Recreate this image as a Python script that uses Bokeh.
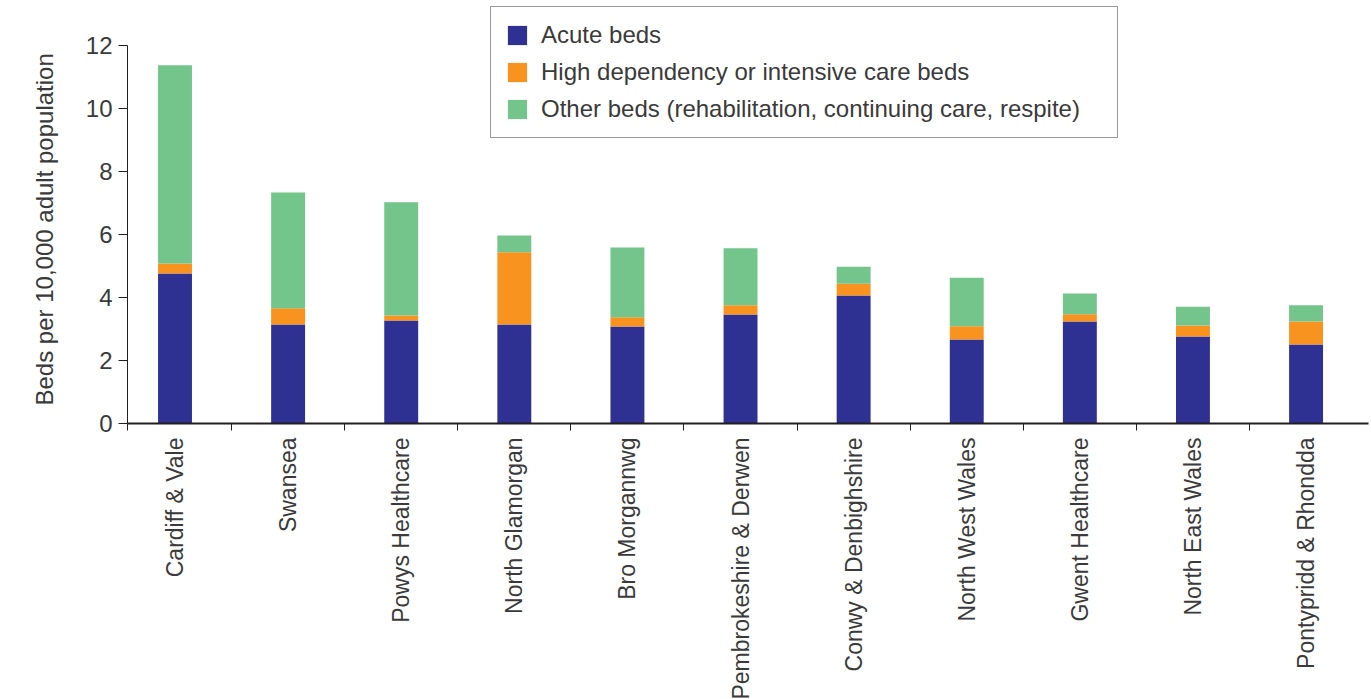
import math
from bokeh.plotting import figure
from bokeh.models import ColumnDataSource, Range1d, FixedTicker, Legend, Title
from bokeh.layouts import column
from bokeh.core.properties import value
from bokeh.embed import file_html
from bokeh.resources import INLINE

categories = ["Cardiff & Vale", "Swansea", "Powys Healthcare", "North Glamorgan",
              "Bro Morgannwg", "Pembrokeshire & Derwen", "Conwy & Denbighshire",
              "North West Wales", "Gwent Healthcare", "North East Wales",
              "Pontypridd & Rhondda"]
acute = [4.76, 3.14, 3.27, 3.14, 3.08, 3.46, 4.06, 2.67, 3.24, 2.76, 2.51]
high_dep = [0.32, 0.52, 0.16, 2.30, 0.29, 0.29, 0.38, 0.42, 0.23, 0.35, 0.73]
other = [6.29, 3.67, 3.59, 0.53, 2.22, 1.81, 0.54, 1.54, 0.66, 0.60, 0.51]
y_ticks = [0, 2, 4, 6, 8, 10, 12]
y_title = "Beds per 10,000 adult population"
series_names = ["Acute beds", "High dependency or intensive care beds",
                "Other beds (rehabilitation, continuing care, respite)"]
colors = ["#2E3192", "#F7931E", "#74C58C"]

pos = list(range(len(categories)))
src = ColumnDataSource(dict(x=pos, acute=acute, hd=high_dep, other=other,
                            name=categories))

FONT = "Liberation Sans"
TXT = "#3a3a3a"
W = 1371

xr = Range1d(-0.42, 10.552)

p = figure(width=W, height=437, output_backend="svg", toolbar_location=None,
           x_range=xr, y_range=Range1d(0, 13.365),
           min_border_left=127, min_border_right=3, min_border_top=2,
           min_border_bottom=14)
p.outline_line_color = None
p.grid.grid_line_color = None
p.background_fill_color = "white"

r = p.vbar_stack(["acute", "hd", "other"], x="x", width=0.30, source=src,
                 color=colors, line_color=None)

legend = Legend(items=[(n, [g]) for n, g in zip(series_names, r)],
                location=(363, 285))
legend.label_text_font = FONT
legend.label_text_font_size = "24px"
legend.label_text_color = TXT
legend.glyph_width = 24
legend.glyph_height = 24
legend.label_standoff = 12
legend.label_width = 562
legend.spacing = 9
legend.padding = 14
legend.margin = 0
legend.border_line_color = "#333333"
legend.border_line_width = 1
legend.background_fill_alpha = 1.0
p.add_layout(legend, "center")

# y axis
ya = p.yaxis[0]
ya.ticker = FixedTicker(ticks=y_ticks)
ya.bounds = (0, 12)
ya.minor_tick_line_color = None
ya.major_tick_out = 9
ya.major_tick_in = 0
ya.axis_line_color = "#231F20"
ya.major_tick_line_color = "#231F20"
ya.major_label_text_font = FONT
ya.major_label_text_font_size = "24px"
ya.major_label_text_color = TXT
ya.major_label_standoff = 6

ttl = Title(text=y_title, align="left", offset=18, standoff=50,
            text_font=FONT, text_font_size="24px", text_font_style="normal",
            text_color=TXT)
p.add_layout(ttl, "left")

# x axis: boundary ticks only
xa = p.xaxis[0]
xa.ticker = FixedTicker(ticks=[], minor_ticks=[-0.42] + [i + 0.5 for i in pos[:-1]])
xa.major_tick_line_color = None
xa.major_tick_out = 0
xa.major_tick_in = 0
xa.minor_tick_out = 7
xa.minor_tick_in = 0
xa.minor_tick_line_color = "#231F20"
xa.axis_line_color = "#231F20"
xa.axis_line_width = 2

# category names below the axis
p2 = figure(width=W, height=262, output_backend="svg", toolbar_location=None,
            x_range=xr, y_range=Range1d(0, 1),
            x_axis_location=None, y_axis_location=None,
            min_border_left=127, min_border_right=3, min_border_top=0,
            min_border_bottom=0)
p2.outline_line_color = None
p2.grid.grid_line_color = None
p2.text(x="x", y=1, text="name", source=src, angle=math.pi / 2,
        text_align="right", text_baseline="middle",
        text_font=value(FONT), text_font_size="23px", text_color=TXT)

layout = column(p, p2, spacing=0)
open("out.html", "w").write(file_html(layout, INLINE))
